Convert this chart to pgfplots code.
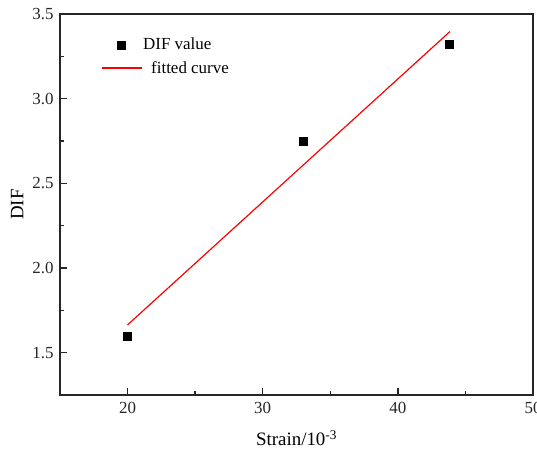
\documentclass[border=0pt]{standalone}
\usepackage{fontspec}
\setmainfont{Liberation Serif}
\usepackage{pgfplots}
\pgfplotsset{compat=1.18}
\pgfplotsset{
    markentry/.style={legend image code/.code={\draw[##1] plot coordinates {(20bp,0bp)};}},
    lineentry/.style={legend image code/.code={\draw[##1] (0bp,0bp) -- (40bp,0bp);}},
}

\begin{document}
\begin{tikzpicture}
\begin{axis}[
    scale only axis,
    width=473bp,
    height=381bp,
    xmin=15, xmax=50,
    ymin=1.25, ymax=3.5,
    xtick={20,30,40,50},
    ytick={1.5,2.0,2.5,3.0,3.5},
    minor x tick num=1,
    minor y tick num=1,
    tick pos=left,
    tick align=inside,
    major tick length=7bp,
    minor tick length=4bp,
    axis line style={line width=1.3bp, black!85},
    every tick/.style={line width=1.3bp, black!85},
    /pgf/number format/assume math mode=true,
    yticklabel style={xshift=-3bp, /pgf/number format/.cd, fixed, fixed zerofill, precision=1},
    xticklabel style={yshift=-4bp, /pgf/number format/.cd, fixed, precision=0},
    tick label style={font=\fontsize{17}{20}\selectfont, black!85},
    xlabel={Strain/10\textsuperscript{-3}},
    ylabel={DIF},
    label style={font=\fontsize{19}{22}\selectfont},
    xlabel style={yshift=-10bp},
    ylabel style={yshift=2bp},
    legend style={draw=none, fill=none, at={(0.08,0.945)}, anchor=north west,
        font=\fontsize{17}{20}\selectfont, row sep=8bp,
        nodes={inner sep=1bp}},
    legend cell align=left,
]
\addplot[only marks, mark=square*, mark size=4bp, black, markentry]
    coordinates {(20,1.60) (33,2.75) (43.8,3.32)};
\addlegendentry{DIF value}
\addplot[red, line width=1.2bp, no marks, lineentry]
    coordinates {(20,1.664) (43.85,3.396)};
\addlegendentry{\hspace{8bp}fitted curve}
\end{axis}
\pgfresetboundingbox
\useasboundingbox ([shift={(-60bp,-60bp)}]current axis.south west) rectangle ([shift={(4bp,14bp)}]current axis.north east);
\end{tikzpicture}
\end{document}
